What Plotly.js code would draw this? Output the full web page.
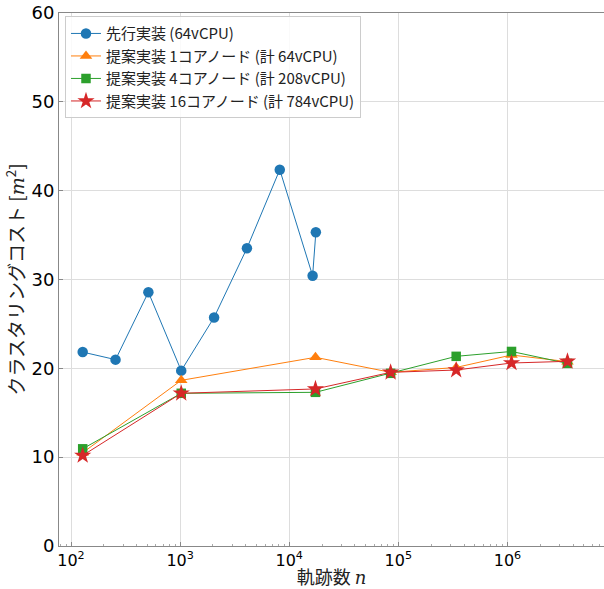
<!DOCTYPE html>
<html>
<head>
<meta charset="utf-8">
<script src="https://cdn.plot.ly/plotly-3.0.1.min.js"></script>
<style>html,body{margin:0;padding:0;background:#fff;}#chart{width:604px;height:589px;}</style>
</head>
<body>
<div id="chart"></div>
<script>
// Data
const xBase = [128, 256, 512, 1024, 2048, 4096, 8192, 16384, 17540];
const yBase = [21.83, 20.98, 28.57, 19.74, 25.73, 33.52, 42.36, 30.42, 35.31];

const xProp = [128, 1024, 17400, 85000, 339000, 1090000, 3550000];
const yProp1 = [10.5, 18.65, 21.24, 19.55, 20.1, 21.5, 20.75];
const yProp4 = [10.94, 17.19, 17.3, 19.44, 21.35, 21.9, 20.56];
const yProp16 = [10.19, 17.19, 17.68, 19.55, 19.81, 20.6, 20.79];

const seriesNames = [
  '先行実装 (64vCPU)',
  '提案実装 1コアノード (計 64vCPU)',
  '提案実装 4コアノード (計 208vCPU)',
  '提案実装 16コアノード (計 784vCPU)'
];
const xTickVals = [100, 1000, 10000, 100000, 1000000];
const xTickText = ['10<sup>2</sup>', '10<sup>3</sup>', '10<sup>4</sup>', '10<sup>5</sup>', '10<sup>6</sup>'];
const yTickVals = [0, 10, 20, 30, 40, 50, 60];

const colors = ['#1f77b4', '#ff7f0e', '#2ca02c', '#d62728'];

const traces = [
  {x: xBase, y: yBase, name: seriesNames[0], mode: 'lines+markers',
   line: {color: colors[0], width: 1}, marker: {symbol: 'circle', size: 10.5, color: colors[0]}},
  {x: xProp, y: yProp1, name: seriesNames[1], mode: 'lines+markers',
   line: {color: colors[1], width: 1}, marker: {symbol: 'triangle-up', size: 11, color: colors[1]}},
  {x: xProp, y: yProp4, name: seriesNames[2], mode: 'lines+markers',
   line: {color: colors[2], width: 1}, marker: {symbol: 'square', size: 9.5, color: colors[2]}},
  {x: xProp, y: yProp16, name: seriesNames[3], mode: 'lines+markers',
   line: {color: colors[3], width: 1}, marker: {symbol: 'star', size: 13, color: colors[3]}}
];

const cjk = 'Noto Sans CJK JP, DejaVu Sans';

const layout = {
  width: 604, height: 589,
  margin: {l: 59, r: 0, t: 13, b: 43},
  paper_bgcolor: '#fff', plot_bgcolor: '#fff',
  showlegend: true,
  legend: {
    x: 0.011, y: 0.994, xanchor: 'left', yanchor: 'top',
    bgcolor: 'rgba(255,255,255,0.85)', bordercolor: '#cccccc', borderwidth: 1,
    font: {family: cjk, size: 15, color: '#222'}
  },
  xaxis: {
    type: 'log', range: [1.89, 6.885],
    tickvals: xTickVals, ticktext: xTickText,
    tickfont: {family: 'DejaVu Sans', size: 16, color: '#000'},
    ticks: 'inside', ticklen: 4, tickcolor: '#888',
    showgrid: true, gridcolor: '#dddddd', gridwidth: 1,
    showline: true, linecolor: '#888', linewidth: 1, mirror: true,
    zeroline: false,
    minor: {dtick: 'D1', ticks: 'inside', ticklen: 2.5, tickcolor: '#aaa', showgrid: false},
    title: {text: '軌跡数 <i><span style="font-family:DejaVu Serif">n</span></i>', font: {family: cjk, size: 18, color: '#222'}, standoff: 2}
  },
  yaxis: {
    range: [0, 60], tickvals: yTickVals,
    tickfont: {family: 'DejaVu Sans', size: 18, color: '#000'},
    ticks: 'inside', ticklen: 4, tickcolor: '#888',
    showgrid: true, gridcolor: '#dddddd', gridwidth: 1,
    showline: true, linecolor: '#888', linewidth: 1,
    zeroline: false,
    title: {text: 'クラスタリングコスト [<i><span style="font-family:DejaVu Serif">m</span></i><sup>2</sup>]', font: {family: cjk, size: 19, color: '#222'}, standoff: 1}
  }
};

Plotly.newPlot('chart', traces, layout, {staticPlot: true, displayModeBar: false});
</script>
</body>
</html>
